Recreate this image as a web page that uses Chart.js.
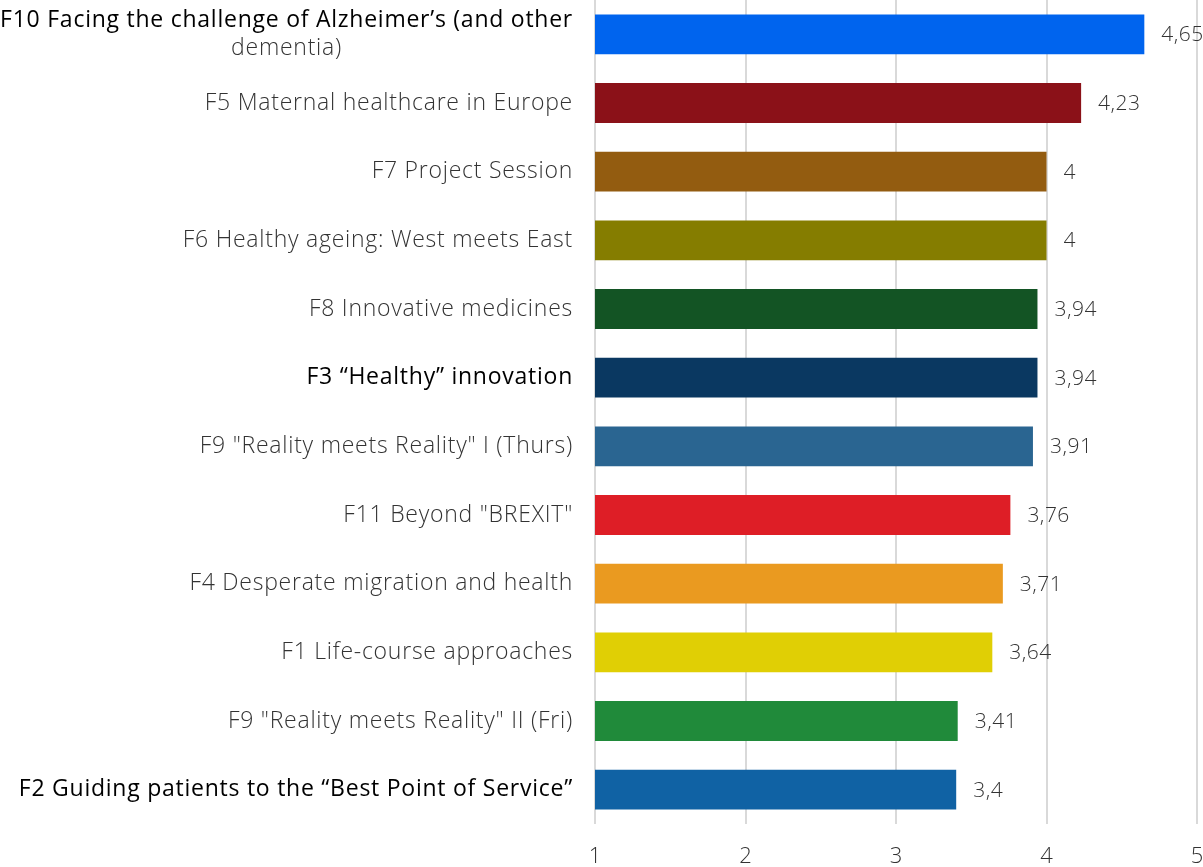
<!DOCTYPE html>
<html>
<head>
<meta charset="utf-8">
<script src="https://cdn.jsdelivr.net/npm/chart.js"></script>
<style>
  body { margin: 0; background: #fff; }
  #wrap { width: 1203px; height: 867px; position: relative; }
</style>
</head>
<body>
<div id="wrap"><canvas id="forumChart"></canvas></div>
<script>
const categories = [
  ['F10 Facing the challenge of Alzheimer’s (and other', 'dementia)'],
  'F5 Maternal healthcare in Europe',
  'F7 Project Session',
  'F6 Healthy ageing: West meets East',
  'F8 Innovative medicines',
  'F3 “Healthy” innovation',
  'F9 "Reality meets Reality" I (Thurs)',
  'F11 Beyond "BREXIT"',
  'F4 Desperate migration and health',
  'F1 Life-course approaches',
  'F9 "Reality meets Reality" II (Fri)',
  'F2 Guiding patients to the “Best Point of Service”'
];
const ratings = [4.65, 4.23, 4, 4, 3.94, 3.94, 3.91, 3.76, 3.71, 3.64, 3.41, 3.4];
const barColors = ['#0064EE', '#8B1118', '#935C10', '#857D00', '#135424', '#0A3861',
                   '#2A6591', '#DE1E26', '#EA9A20', '#E0CF05', '#208A3A', '#1062A4'];
// labels shown in black (first line only for multi-line ones)
const highlighted = [0, 5, 11];
const axisTicks = [1, 2, 3, 4, 5];

const greyFont = '300 23px "Open Sans"';
const blackFont = '400 23px "Open Sans"';

// draws y labels by hand so the wrapped F10 label is centred like the original
const categoryLabels = {
  id: 'categoryLabels',
  afterDraw(chart) {
    const ctx = chart.ctx;
    const y = chart.scales.y;
    const right = chart.chartArea.left - 22;
    ctx.save();
    ctx.letterSpacing = '0.75px';
    ctx.textBaseline = 'middle';
    categories.forEach((lab, i) => {
      const cy = y.getPixelForTick(i);
      const lines = Array.isArray(lab) ? lab : [lab];
      const hi = highlighted.includes(i);
      if (lines.length === 1) {
        ctx.font = hi ? blackFont : greyFont;
        ctx.fillStyle = hi ? '#000' : '#333';
        ctx.textAlign = 'right';
        ctx.fillText(lines[0], right, cy);
        return;
      }
      const lh = 28;
      ctx.font = hi ? blackFont : greyFont;
      const w = ctx.measureText(lines[0]).width;
      const mid = right - w / 2;
      ctx.textAlign = 'center';
      lines.forEach((ln, k) => {
        const first = k === 0 && hi;
        ctx.font = first ? blackFont : greyFont;
        ctx.fillStyle = first ? '#000' : '#333';
        ctx.fillText(ln, mid, cy + (k - (lines.length - 1) / 2) * lh);
      });
    });
    ctx.restore();
  }
};

const valueLabels = {
  id: 'valueLabels',
  afterDatasetsDraw(chart) {
    const ctx = chart.ctx;
    const meta = chart.getDatasetMeta(0);
    ctx.save();
    ctx.letterSpacing = '0.5px';
    ctx.font = '300 21px "Open Sans"';
    ctx.fillStyle = '#333';
    ctx.textAlign = 'left';
    ctx.textBaseline = 'middle';
    meta.data.forEach((bar, i) => {
      ctx.fillText(String(ratings[i]).replace('.', ','), bar.x + 17, bar.y + 1);
    });
    ctx.restore();
  }
};

new Chart(document.getElementById('forumChart').getContext('2d'), {
  type: 'bar',
  data: {
    labels: categories,
    datasets: [{
      data: ratings,
      backgroundColor: barColors,
      borderWidth: 0,
      categoryPercentage: 1,
      barPercentage: 0.58
    }]
  },
  options: {
    indexAxis: 'y',
    responsive: true,
    maintainAspectRatio: false,
    animation: false,
    layout: { padding: { top: 0, right: 6, bottom: 0, left: 0 } },
    plugins: { legend: { display: false }, tooltip: { enabled: false } },
    scales: {
      x: {
        min: 1,
        max: 5,
        afterBuildTicks: (s) => { s.ticks = axisTicks.map(v => ({ value: v })); },
        afterFit: (s) => { s.height = 43; s.paddingLeft = 0; s.paddingRight = 0; },
        border: { display: false },
        grid: { color: '#d9d9d9', lineWidth: 2, drawTicks: false },
        ticks: { color: '#333', font: { family: 'Open Sans', size: 22, weight: '300' }, padding: 20 }
      },
      y: {
        afterFit: (s) => { s.width = 595; },
        border: { display: false },
        grid: { display: false },
        ticks: { display: false }
      }
    }
  },
  plugins: [categoryLabels, valueLabels]
});
</script>
</body>
</html>
